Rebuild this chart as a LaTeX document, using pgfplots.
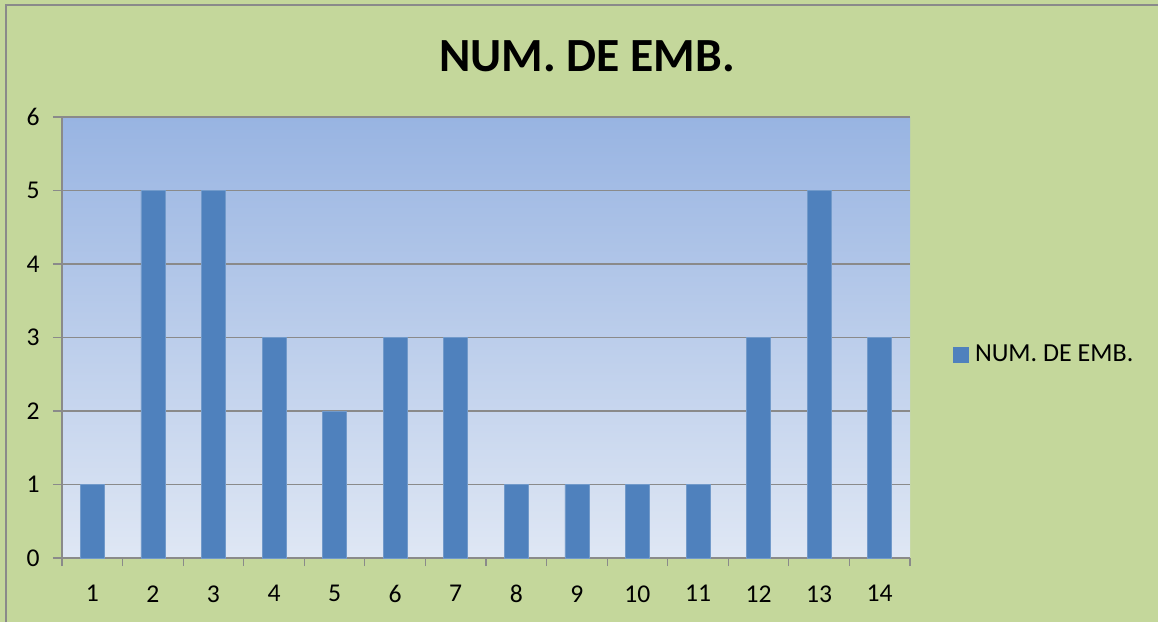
\documentclass[border=0pt]{standalone}
\usepackage{pgfplots}
\pgfplotsset{compat=1.18}
\usepackage{fontspec}
\setmainfont{Carlito}
\definecolor{bggreen}{HTML}{C4D79B}
\definecolor{barblue}{HTML}{4F81BD}
\definecolor{gridgray}{HTML}{8A8A8A}
\definecolor{topblue}{HTML}{98B4E2}
\definecolor{botblue}{HTML}{DFE7F4}
\begin{document}
\begin{tikzpicture}
\fill[bggreen] (-31pt,-32pt) rectangle (548pt,279pt);
\useasboundingbox (-31pt,-32pt) rectangle (548pt,279pt);
\draw[gridgray, line width=1pt] (-28pt,-32pt) -- (-28pt,276.5pt) -- (548pt,276.5pt);
\node[font=\fontsize{23.8}{27}\selectfont\bfseries] at (262.5pt,251pt) {NUM. DE EMB.};
\begin{axis}[
  at={(0pt,0pt)}, anchor=south west,
  scale only axis, width=424pt, height=220.5pt,
  xmin=0.5, xmax=14.5, ymin=0, ymax=6,
  axis x line*=bottom, axis y line*=left,
  axis line style={gridgray, line width=0.6pt},
  axis background/.style={top color=topblue, bottom color=botblue},
  xtick={1,...,14},
  minor xtick={0.5,1.5,...,14.5},
  ytick={0,1,...,6},
  tick align=outside,
  major tick length=4.5pt,
  minor tick length=4pt,
  x tick style={draw=none},
  minor x tick style={draw=gridgray, line width=0.6pt},
  y tick style={draw=gridgray, line width=0.6pt},
  ymajorgrids,
  grid style={gridgray, line width=0.6pt},
  /pgf/number format/assume math mode=true,
  tick label style={font=\fontsize{12.8}{14}\selectfont},
  yticklabel style={anchor=east, inner sep=0pt, xshift=-6.5pt},
  xticklabel style={anchor=north, inner sep=0pt, yshift=-9pt},
  legend style={at={(1.0507,0.46)}, anchor=west, draw=none, fill=none,
    inner sep=0pt, font=\fontsize{13}{15}\selectfont},
  legend image code/.code={\fill[barblue] (0pt,-3.75pt) rectangle (7.5pt,3.75pt);
    \path (8.5pt,0pt);},
  legend cell align=left,
]
\addplot[ybar, bar width=12pt, fill=barblue, draw=barblue!80!white, line width=0.3pt]
coordinates {(1,1) (2,5) (3,5) (4,3) (5,2) (6,3) (7,3) (8,1) (9,1) (10,1) (11,1) (12,3) (13,5) (14,3)};
\addlegendentry{NUM. DE EMB.}
\end{axis}
\end{tikzpicture}
\end{document}
